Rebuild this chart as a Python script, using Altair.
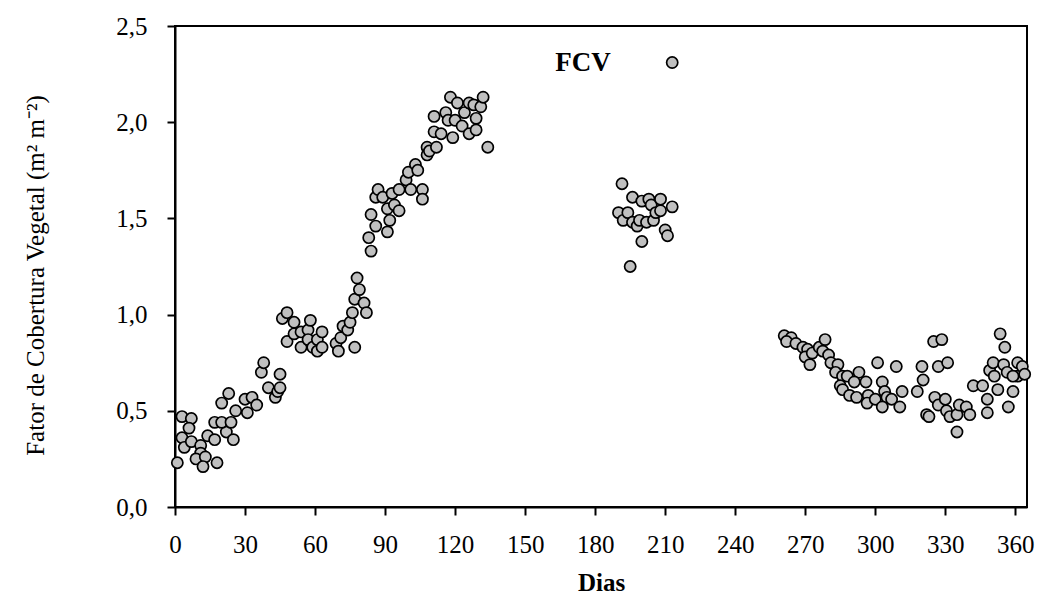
import altair as alt
import pandas as pd

days = [
    1, 3, 7, 6, 3, 4, 7, 11, 11, 9, 13, 12, 18, 14, 17, 22, 25, 17, 20, 24,
    20, 23, 26, 30, 31, 33, 35, 40, 43, 44, 45, 37, 38, 45,
    46, 48, 48, 51, 51, 54, 54, 57, 57, 58, 59, 61, 61, 63, 63, 69, 70, 71,
    72, 74, 75, 76, 77, 77, 78, 79, 81, 82,
    83, 84, 84, 86, 86, 87, 89, 91, 91, 92, 93, 94, 96, 96, 99, 100, 101, 103,
    104, 106, 106, 108, 108, 109, 111, 111, 112, 114, 116, 117, 118, 119, 120,
    121, 123, 124, 126, 126, 128, 129, 129, 131, 132, 134,
    190, 191.5, 192, 194, 195, 196, 196, 198, 199, 200, 200, 202, 203, 204,
    205, 206, 208, 208, 210, 211, 213, 213,
    261, 264, 262, 266, 269, 271, 270, 272, 273, 276, 278.5, 277.5, 280, 281,
    284, 283, 286, 288, 293, 291, 296, 285, 286, 289, 292, 297, 296.5, 300,
    301, 303, 304, 305, 303, 307, 311.5, 309, 310.5, 320, 320.5, 318, 325,
    328.5, 327, 331, 322, 323, 325.5, 327, 330, 330.5, 332, 335, 336, 339,
    340.5, 335, 342, 346, 348, 348, 357, 352.5, 349, 350.5, 351, 353.5, 355.5,
    355, 356.5, 359, 361, 361, 363, 364, 359,
]
fcv = [
    0.23, 0.47, 0.46, 0.41, 0.36, 0.31, 0.34, 0.32, 0.28, 0.25, 0.26, 0.21, 0.23,
    0.37, 0.35, 0.39, 0.35, 0.44, 0.44, 0.44, 0.54, 0.59, 0.50, 0.56, 0.49, 0.57,
    0.53, 0.62, 0.57, 0.60, 0.62, 0.70, 0.75, 0.69,
    0.98, 1.01, 0.86, 0.96, 0.90, 0.91, 0.83, 0.92, 0.87, 0.97, 0.83, 0.87, 0.81,
    0.91, 0.83, 0.85, 0.81, 0.88, 0.94, 0.92, 0.96, 1.01, 1.08, 0.83, 1.19, 1.13,
    1.06, 1.01,
    1.40, 1.33, 1.52, 1.46, 1.61, 1.65, 1.61, 1.43, 1.55, 1.49, 1.63, 1.57, 1.54,
    1.65, 1.70, 1.74, 1.65, 1.78, 1.75, 1.65, 1.60, 1.87, 1.83, 1.85, 1.95, 2.03,
    1.87, 1.94, 2.05, 2.01, 2.13, 1.92, 2.01, 2.10, 1.98, 2.05, 2.10, 1.94, 2.09,
    2.02, 1.96, 2.08, 2.13, 1.87,
    1.53, 1.68, 1.49, 1.53, 1.25, 1.61, 1.48, 1.46, 1.49, 1.38, 1.59, 1.48, 1.60,
    1.57, 1.49, 1.53, 1.54, 1.60, 1.44, 1.41, 1.56, 2.31,
    0.89, 0.88, 0.86, 0.85, 0.83, 0.82, 0.78, 0.74, 0.80, 0.83, 0.87, 0.81, 0.79,
    0.75, 0.74, 0.70, 0.68, 0.68, 0.70, 0.65, 0.65, 0.63, 0.61, 0.58, 0.57, 0.58,
    0.54, 0.56, 0.75, 0.65, 0.60, 0.57, 0.52, 0.56, 0.60, 0.73, 0.52, 0.73, 0.66,
    0.60, 0.86, 0.87, 0.73, 0.75, 0.48, 0.47, 0.57, 0.53, 0.56, 0.50, 0.47, 0.48,
    0.53, 0.52, 0.48, 0.39, 0.63, 0.63, 0.56, 0.49, 0.52, 0.61, 0.71, 0.75, 0.68,
    0.90, 0.83, 0.74, 0.70, 0.60, 0.75, 0.68, 0.73, 0.69, 0.68,
]

x_ticks = list(range(0, 361, 30))
y_ticks = [0.0, 0.5, 1.0, 1.5, 2.0, 2.5]
series_label = ["FCV"]

df = pd.DataFrame({"Dias": days, "FCV": fcv})
lab = pd.DataFrame({"label": series_label})

FONT = "Liberation Serif"

points = alt.Chart(df).mark_point(
    shape="circle", filled=True, fill="#c0c0c0", stroke="black",
    strokeWidth=1.7, size=125, opacity=1
).encode(
    x=alt.X("Dias:Q",
            scale=alt.Scale(domain=[0, 365], nice=False, zero=False),
            axis=alt.Axis(values=x_ticks, title="Dias", format="d",
                          titleFontWeight="bold", titleFontSize=25,
                          titlePadding=13)),
    y=alt.Y("FCV:Q",
            scale=alt.Scale(domain=[0, 2.5], nice=False),
            axis=alt.Axis(values=y_ticks,
                          title="Fator de Cobertura Vegetal (m² m⁻²)",
                          labelExpr="replace(format(datum.value, '.1f'), '.', ',')",
                          titleFontWeight="normal", titleFontSize=25,
                          titlePadding=67, titleY=249)),
)

label = alt.Chart(lab).mark_text(
    font=FONT, fontSize=27, fontWeight="bold", align="center", baseline="middle"
).encode(
    x=alt.value(408), y=alt.value(37), text="label:N"
)

chart = alt.layer(points, label).properties(
    width=852, height=481,
    autosize=alt.AutoSizeParams(type="none"),
    padding={"left": 175, "top": 26, "right": 14, "bottom": 91},
).configure_view(
    stroke="black", strokeWidth=2
).configure_axis(
    grid=False, domainColor="black", domainWidth=2, tickColor="black",
    tickWidth=2, tickSize=8, labelFont=FONT, labelFontSize=25,
    labelColor="black", titleFont=FONT, titleColor="black",
    labelPadding=17, labelFlush=False, labelOverlap=False,
).configure_axisY(
    labelPadding=20
)

chart.save("out.html", embed_options={"renderer": "svg", "actions": False})
